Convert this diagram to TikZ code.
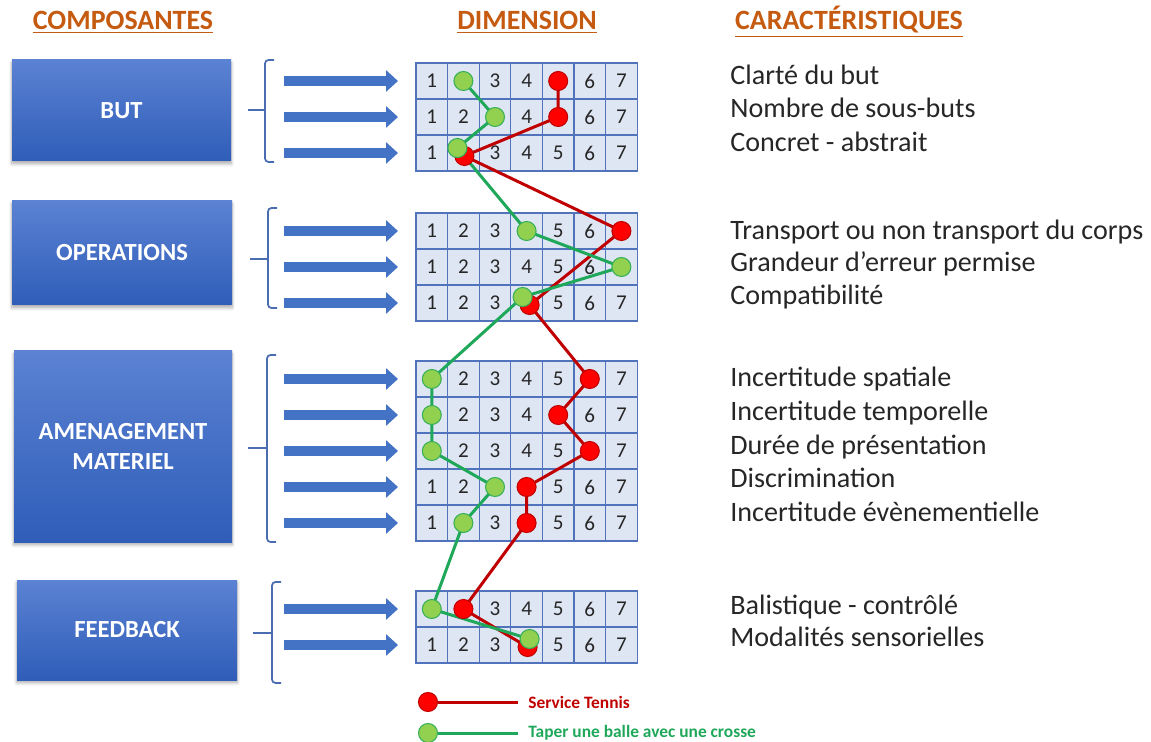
\documentclass[tikz,border=0pt]{standalone}
\usepackage{fontspec}
\setmainfont{Carlito}
\usetikzlibrary{arrows.meta, shadows.blur}

\definecolor{headorange}{HTML}{C55A11}
\definecolor{boxtop}{HTML}{5B82D3}
\definecolor{boxbot}{HTML}{2F5DB8}
\definecolor{bracecol}{HTML}{4A6DB2}
\definecolor{arrowblue}{HTML}{4472C4}
\definecolor{gridfill}{HTML}{DFE6F3}
\definecolor{gridline}{HTML}{5073BC}
\definecolor{textgray}{HTML}{262626}
\definecolor{tennisred}{HTML}{C00000}
\definecolor{crossegreen}{HTML}{1FA85A}
\definecolor{dotgreen}{HTML}{92D050}

% one pixel of the layout
\newcommand{\pxl}{0.02cm}
% a row of seven cells: name, y centre, entries
\newcommand{\dimrow}[3]{%
  \foreach \v [count=\c] in {#3}
    \node[cell] (#1-\c) at ({416+31.6*(\c-0.5)},#2) {\v};%
}

\begin{document}
\begin{tikzpicture}[x=0.02cm, y=-0.02cm,
		head/.style={text=headorange, font=\bfseries\fontsize{15.9}{18}\selectfont, anchor=base, inner sep=0pt},
		comp/.style={rectangle, top color=boxtop, bottom color=boxbot, text=white,
			font=\bfseries\fontsize{14}{17.5}\selectfont, align=center,
			blur shadow={shadow xshift=0pt, shadow yshift=-1.5pt, shadow blur steps=6, shadow opacity=35}},
		brace/.style={draw=bracecol, line width=1pt, rounded corners=2pt},
		bigarrow/.style={draw=arrowblue, line width=10*\pxl, -{Triangle[length=0.24cm, width=0.42cm]}},
		cell/.style={rectangle, draw=gridline, fill=gridfill, line width=0.6pt,
			minimum width=31.6*\pxl, minimum height=36*\pxl, inner sep=0pt, outer sep=0pt,
			text=textgray, font=\fontsize{12}{14}\selectfont},
		charac/.style={anchor=base west, inner sep=0pt, text=textgray, font=\fontsize{16}{18}\selectfont},
		rline/.style={draw=tennisred, line width=3*\pxl, line join=round},
		gline/.style={draw=crossegreen, line width=3*\pxl, line join=round},
		rdot/.style={circle, fill=red, draw=tennisred, line width=0.6pt, minimum size=19*\pxl, inner sep=0pt},
		gdot/.style={circle, fill=dotgreen, draw=crossegreen!80!dotgreen, line width=0.6pt, minimum size=19*\pxl, inner sep=0pt},
		legend/.style={anchor=west, inner sep=0pt, font=\bfseries\fontsize{9.9}{12}\selectfont}]
	
	\useasboundingbox (0,0) rectangle (1151,742);
	
	% column titles
	\node[head] (hcomp) at (123,30) {\underline{COMPOSANTES}};
	\node[head] (hdim) at (527,30) {\underline{DIMENSION}};
	\node[head] (hcar) at (849,30) {\underline{CARACTÉRISTIQUES}};
	
	% components
	\node[comp, minimum width=219*\pxl, minimum height=101*\pxl] (but) at (121.5,110.5) {BUT};
	\node[comp, minimum width=220*\pxl, minimum height=104*\pxl] (oper) at (122,253) {OPERATIONS};
	\node[comp, minimum width=218*\pxl, minimum height=191*\pxl] (amen) at (123,446.5) {AMENAGEMENT\\MATERIEL};
	\node[comp, minimum width=220*\pxl, minimum height=100*\pxl] (feed) at (127,630) {FEEDBACK};
	
	% braces
	\draw[brace] (274,60) -- (265,60) -- (265,162) -- (274,162);
	\draw[brace] (248,110) -- (265,110);
	\draw[brace] (277,208) -- (268,208) -- (268,308) -- (277,308);
	\draw[brace] (250,259) -- (268,259);
	\draw[brace] (276,355) -- (267,355) -- (267,542) -- (276,542);
	\draw[brace] (248,448) -- (267,448);
	\draw[brace] (281,582) -- (272,582) -- (272,683) -- (281,683);
	\draw[brace] (253,633) -- (272,633);
	
	% dimension scales
	\dimrow{b1}{81}{1,{},3,4,{},6,7}
	\dimrow{b2}{117}{1,2,{},4,{},6,7}
	\dimrow{b3}{153}{1,{},3,4,5,6,7}
	\dimrow{o1}{231}{1,2,3,{},5,6,{}}
	\dimrow{o2}{267}{1,2,3,4,5,6,{}}
	\dimrow{o3}{303}{1,2,3,{},5,6,7}
	\dimrow{a1}{379}{{},2,3,4,5,{},7}
	\dimrow{a2}{415}{{},2,3,4,{},6,7}
	\dimrow{a3}{451}{{},2,3,4,5,{},7}
	\dimrow{a4}{487}{1,2,{},{},5,6,7}
	\dimrow{a5}{523}{1,{},3,{},5,6,7}
	\dimrow{f1}{609}{{},{},3,4,5,6,7}
	\dimrow{f2}{645}{1,2,3,{},5,6,7}
	
	\foreach \r in {b1,b2,b3,o1,o2,o3,a1,a2,a3,a4,a5,f1,f2}
		\draw[bigarrow] ([xshift=-132*\pxl]\r-1.west) -- ([xshift=-18*\pxl]\r-1.west);
	
	% characteristics
	\node[charac] (c1) at (730,85) {Clarté du but};
	\node[charac] (c2) at (730,118) {Nombre de sous-buts};
	\node[charac] (c3) at (730,152) {Concret - abstrait};
	\node[charac] (c4) at (730,240) {Transport ou non transport du corps};
	\node[charac] (c5) at (730,272) {Grandeur d’erreur permise};
	\node[charac] (c6) at (730,305) {Compatibilité};
	\node[charac] (c7) at (730,387) {Incertitude spatiale};
	\node[charac] (c8) at (730,420) {Incertitude temporelle};
	\node[charac] (c9) at (730,454) {Durée de présentation};
	\node[charac] (c10) at (730,487) {Discrimination};
	\node[charac] (c11) at (730,521) {Incertitude évènementielle};
	\node[charac] (c12) at (730,614) {Balistique - contrôlé};
	\node[charac] (c13) at (730,646) {Modalités sensorielles};
	
	% service tennis profile
	\coordinate (r1) at (b1-5);
	\coordinate (r2) at (b2-5);
	\coordinate (r3) at ([shift={(1,3)}]b3-2);
	\coordinate (r4) at (o1-7);
	\coordinate (r5) at ([shift={(3,2)}]o3-4);
	\coordinate (r6) at (a1-6);
	\coordinate (r7) at (a2-5);
	\coordinate (r8) at (a3-6);
	\coordinate (r9) at (a4-4);
	\coordinate (r10) at (a5-4);
	\coordinate (r11) at (f1-2);
	\coordinate (r12) at ([shift={(1,2)}]f2-4);
	
	% crosse profile
	\coordinate (g1) at (b1-2);
	\coordinate (g2) at (b2-3);
	\coordinate (g3) at ([shift={(-6,-5)}]b3-2);
	\coordinate (g4) at (o1-4);
	\coordinate (g5) at (o2-7);
	\coordinate (g6) at ([shift={(-4,-6)}]o3-4);
	\coordinate (g7) at (a1-1);
	\coordinate (g8) at (a2-1);
	\coordinate (g9) at (a3-1);
	\coordinate (g10) at (a4-3);
	\coordinate (g11) at (a5-2);
	\coordinate (g12) at (f1-1);
	\coordinate (g13) at ([shift={(3,-6)}]f2-4);
	
	\draw[rline] (r1) -- (r2) -- (r3) -- (r4) -- (r5) -- (r6) -- (r7) -- (r8)
		-- (r9) -- (r10) -- (r11) -- (r12);
	\draw[gline] (g1) -- (g2) -- (g3) -- (g4) -- (g5) -- (g6) -- (g7) -- (g8)
		-- (g9) -- (g10) -- (g11) -- (g12) -- (g13);
	
	\foreach \p in {1,...,12}
		\node[rdot] (r\p dot) at (r\p) {};
	\foreach \p in {1,...,13}
		\node[gdot] (g\p dot) at (g\p) {};
	
	% legend
	\node[rdot] (legr) at (428,702) {};
	\coordinate (legrend) at (518,702);
	\draw[rline] (legr) -- (legrend);
	\node[legend, text=tennisred] (legrtext) at (528,702) {Service Tennis};
	
	\node[gdot] (legg) at (428,733) {};
	\coordinate (leggend) at (518,733);
	\draw[gline] (legg) -- (leggend);
	\node[legend, text=crossegreen] (leggtext) at (528,733) {Taper une balle avec une crosse};
	
\end{tikzpicture}
\end{document}
